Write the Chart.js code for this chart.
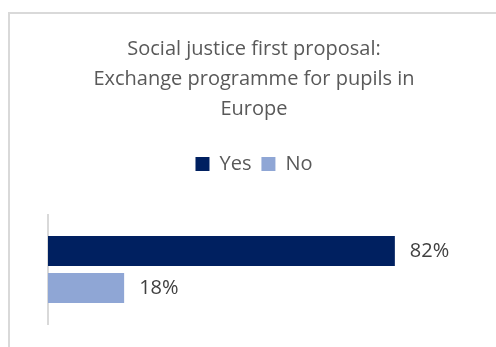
<!DOCTYPE html>
<html>
<head>
<meta charset="utf-8">
<script src="https://cdn.jsdelivr.net/npm/chart.js@4/dist/chart.umd.min.js"></script>
<style>
  html, body { margin: 0; padding: 0; background: #fff; }
  #wrap { width: 496px; height: 347px; }
</style>
</head>
<body>
<div id="wrap"><canvas id="myChart" width="496" height="347"></canvas></div>
<script>
let titleLines = ['Social justice first proposal:', 'Exchange programme for pupils in', 'Europe'];
let categories = [''];
let seriesNames = ['Yes', 'No'];
let seriesValues = [0.82, 0.18];
let colorHex = ['#002060', '#8FA6D5'];

let fontFamily = '"Open Sans", Lato, sans-serif';

// light frame round the chart, cut off at the right and bottom
const frame = {
    id: 'frame',
    beforeDraw(chart) {
        const c = chart.ctx;
        c.save();
        c.fillStyle = '#fff';
        c.fillRect(0, 0, chart.width, chart.height);
        c.strokeStyle = '#d9d9d9';
        c.lineWidth = 2;
        c.strokeRect(9, 13, chart.width + 20, chart.height + 20);
        c.restore();
    }
};

// percentage written just past the end of each bar
const valueLabels = {
    id: 'valueLabels',
    afterDatasetsDraw(chart) {
        const c = chart.ctx;
        c.save();
        c.font = '20px ' + fontFamily;
        c.fillStyle = '#404040';
        c.textAlign = 'left';
        c.textBaseline = 'middle';
        chart.data.datasets.forEach((ds, i) => {
            chart.getDatasetMeta(i).data.forEach((bar, j) => {
                c.fillText(Math.round(ds.data[j] * 100) + '%', bar.x + 15, bar.y);
            });
        });
        c.restore();
    }
};

let ctx = document.getElementById('myChart').getContext('2d');

let myChart = new Chart(ctx, {
    type: 'bar',
    data: {
        labels: categories,
        datasets: seriesNames.map((name, i) => ({
            label: name,
            data: [seriesValues[i]],
            backgroundColor: colorHex[i],
            categoryPercentage: 0.68,
            barPercentage: 0.81
        }))
    },
    plugins: [frame, valueLabels],
    options: {
        indexAxis: 'y',
        responsive: false,
        animation: false,
        layout: {
            padding: { top: 34, left: 37, right: 25, bottom: 23 }
        },
        scales: {
            x: {
                position: 'top',
                min: 0,
                max: 1,
                ticks: { display: false },
                grid: { display: false, drawTicks: false },
                border: { display: false },
                afterFit: (axis) => { axis.height = 31; }
            },
            y: {
                ticks: { display: false },
                grid: { display: false, drawTicks: false },
                border: { display: true, color: '#d9d9d9', width: 2 },
                afterFit: (axis) => { axis.width = 11; }
            }
        },
        plugins: {
            title: {
                display: true,
                text: titleLines,
                color: '#595959',
                font: { family: fontFamily, size: 20, weight: 'normal', lineHeight: '30px' },
                padding: { top: 0, bottom: 20 }
            },
            legend: {
                position: 'top',
                labels: {
                    color: '#595959',
                    boxWidth: 14,
                    boxHeight: 14,
                    padding: 10,
                    font: { family: fontFamily, size: 20 }
                }
            },
            tooltip: { enabled: false }
        }
    }
});
</script>
</body>
</html>
